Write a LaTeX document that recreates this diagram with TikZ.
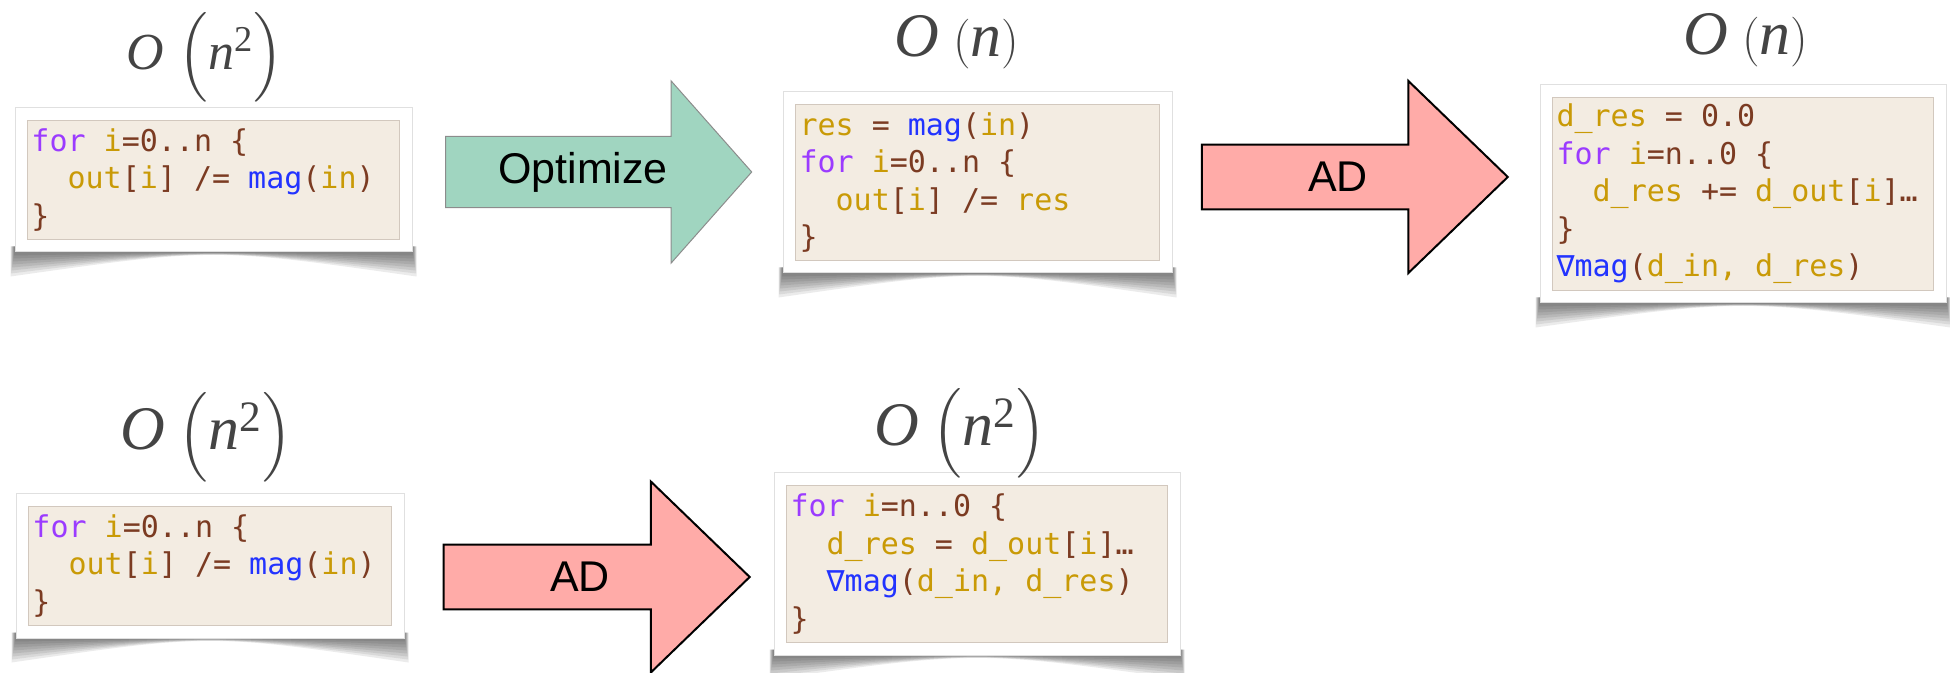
\documentclass[tikz,border=0pt]{standalone}
\usepackage{fontspec}
\usepackage{amsmath}
\usetikzlibrary{shapes.arrows,fit}
\newfontfamily\codettfont{DejaVu Sans Mono}
\newfontfamily\blockfont{Liberation Sans}
\newfontfamily\titlefont{Liberation Serif}
\definecolor{kwcol}{HTML}{9B3BFF}
\definecolor{idcol}{HTML}{C99A06}
\definecolor{opcol}{HTML}{7B3B22}
\definecolor{fncol}{HTML}{2233FF}
\definecolor{codebg}{HTML}{F3ECE2}
\definecolor{codeframe}{HTML}{D2C8BE}
\definecolor{titlegray}{HTML}{444444}
\definecolor{optfill}{HTML}{A0D5C0}
\definecolor{adfill}{HTML}{FFABA8}
\newcommand\cKw[1]{\textcolor{kwcol}{#1}}
\newcommand\cId[1]{\textcolor{idcol}{#1}}
\newcommand\cFn[1]{\textcolor{fncol}{#1}}
\newcommand\cInd{\phantom{xx}}
\newcommand\bigOsq{$\textit{O}\;\Bigl(\textit{n}^{\text{2}}\Bigr)$}
\newcommand\bigOlin{$\textit{O}\;(\textit{n})$}
\pgfdeclarelayer{shadow}
\pgfdeclarelayer{background}
\pgfsetlayers{shadow,background,main}
\tikzset{
  code/.style={anchor=north west, fill=codebg, draw=codeframe, line width=0.5pt,
    inner xsep=2pt, inner ysep=1.5pt, align=left, text=opcol,
    font={\codettfont\fontsize{15}{18.75}\selectfont},
    execute at begin node={\spaceskip=0.602em\xspaceskip=0.602em\relax}},
  card/.style={fill=white, draw=black!12, line width=0.5pt, inner sep=6pt},
  cardshadow/.style={fill=black, fill opacity=0.08},
  bigo/.style={anchor=base, inner sep=0pt, text=titlegray,
    font={\titlefont\fontsize{31}{36}\selectfont}},
  blockarrow/.style={single arrow, minimum height=153pt,
    font={\blockfont\fontsize{21.5}{26}\selectfont}},
  optarrow/.style={blockarrow, fill=optfill, draw=black!45, line width=0.5pt},
  adarrow/.style={blockarrow, fill=adfill, draw=black, line width=1pt}
}
\begin{document}
\begin{tikzpicture}[x=0.5pt, y=-0.5pt]
\useasboundingbox (0,0) rectangle (1950,673);
% top row: original, optimized, differentiated
\node[bigo, font={\titlefont\fontsize{26}{30}\selectfont}] (bigo1) at (205,70) {\bigOsq};
\node[code, text width=182pt, minimum height=59.5pt] (code1) at (27,120)
  {\cKw{for} \cId{i}=0..n \{\\
   \cInd\cId{out}[\cId{i}] /= \cFn{mag}(\cId{in})\\
   \}};
\node[optarrow, minimum width=91pt, single arrow head extend=21.25pt,
  single arrow tip angle=97] (opt) at (583,172) {Optimize};
\node[bigo] (bigo2) at (957,57) {\bigOlin};
\node[code, text width=178pt, minimum height=78pt] (code2) at (795,104)
  {\cId{res} = \cFn{mag}(\cId{in})\\
   \cKw{for} \cId{i}=0..n \{\\
   \cInd\cId{out}[\cId{i}] /= \cId{res}\\
   \}};
\node[adarrow, minimum width=96pt, single arrow head extend=22pt,
  single arrow tip angle=88] (ad1) at (1338,177) {AD};
\node[bigo] (bigo3) at (1746,55) {\bigOlin};
\node[code, text width=186.5pt, minimum height=96.5pt] (code3) at (1552,97)
  {\cId{d\_res} = 0.0\\
   \cKw{for} \cId{i}=n..0 \{\\
   \cInd\cId{d\_res} += \cId{d\_out}[\cId{i}]…\\
   \}\\
   \cFn{∇mag}(\cId{d\_in,} \cId{d\_res})};
% bottom row: differentiated without optimizing
\node[bigo] (bigo4) at (206,450) {\bigOsq};
\node[code, text width=177.5pt, minimum height=59.5pt] (code4) at (28,506)
  {\cKw{for} \cId{i}=0..n \{\\
   \cInd\cId{out}[\cId{i}] /= \cFn{mag}(\cId{in})\\
   \}};
\node[adarrow, minimum width=95.5pt, single arrow head extend=22pt,
  single arrow tip angle=88] (ad2) at (580,577) {AD};
\node[bigo] (bigo5) at (960,446) {\bigOsq};
\node[code, text width=186.5pt, minimum height=78.5pt] (code5) at (786,485)
  {\cKw{for} \cId{i}=n..0 \{\\
   \cInd\cId{d\_res} = \cId{d\_out}[\cId{i}]…\\
   \cInd\cFn{∇mag}(\cId{d\_in,} \cId{d\_res})\\
   \}};
% white cards with curled shadow
\foreach \i in {1,...,5} {
  \begin{pgfonlayer}{background}
    \node[card, fit=(code\i)] (card\i) {};
  \end{pgfonlayer}
  \begin{pgfonlayer}{shadow}
    \foreach \k in {1,...,8} {
      \fill[cardshadow] ([shift={(-0.25*\k pt,3pt)}]card\i.south west)
        -- ([shift={(-0.25*\k pt,-1.5*\k pt)}]card\i.south west)
        .. controls ([yshift=0.3*\k pt]card\i.south)
        .. ([shift={(0.25*\k pt,-1.5*\k pt)}]card\i.south east)
        -- ([shift={(0.25*\k pt,3pt)}]card\i.south east) -- cycle;
    }
  \end{pgfonlayer}
}
\end{tikzpicture}
\end{document}
